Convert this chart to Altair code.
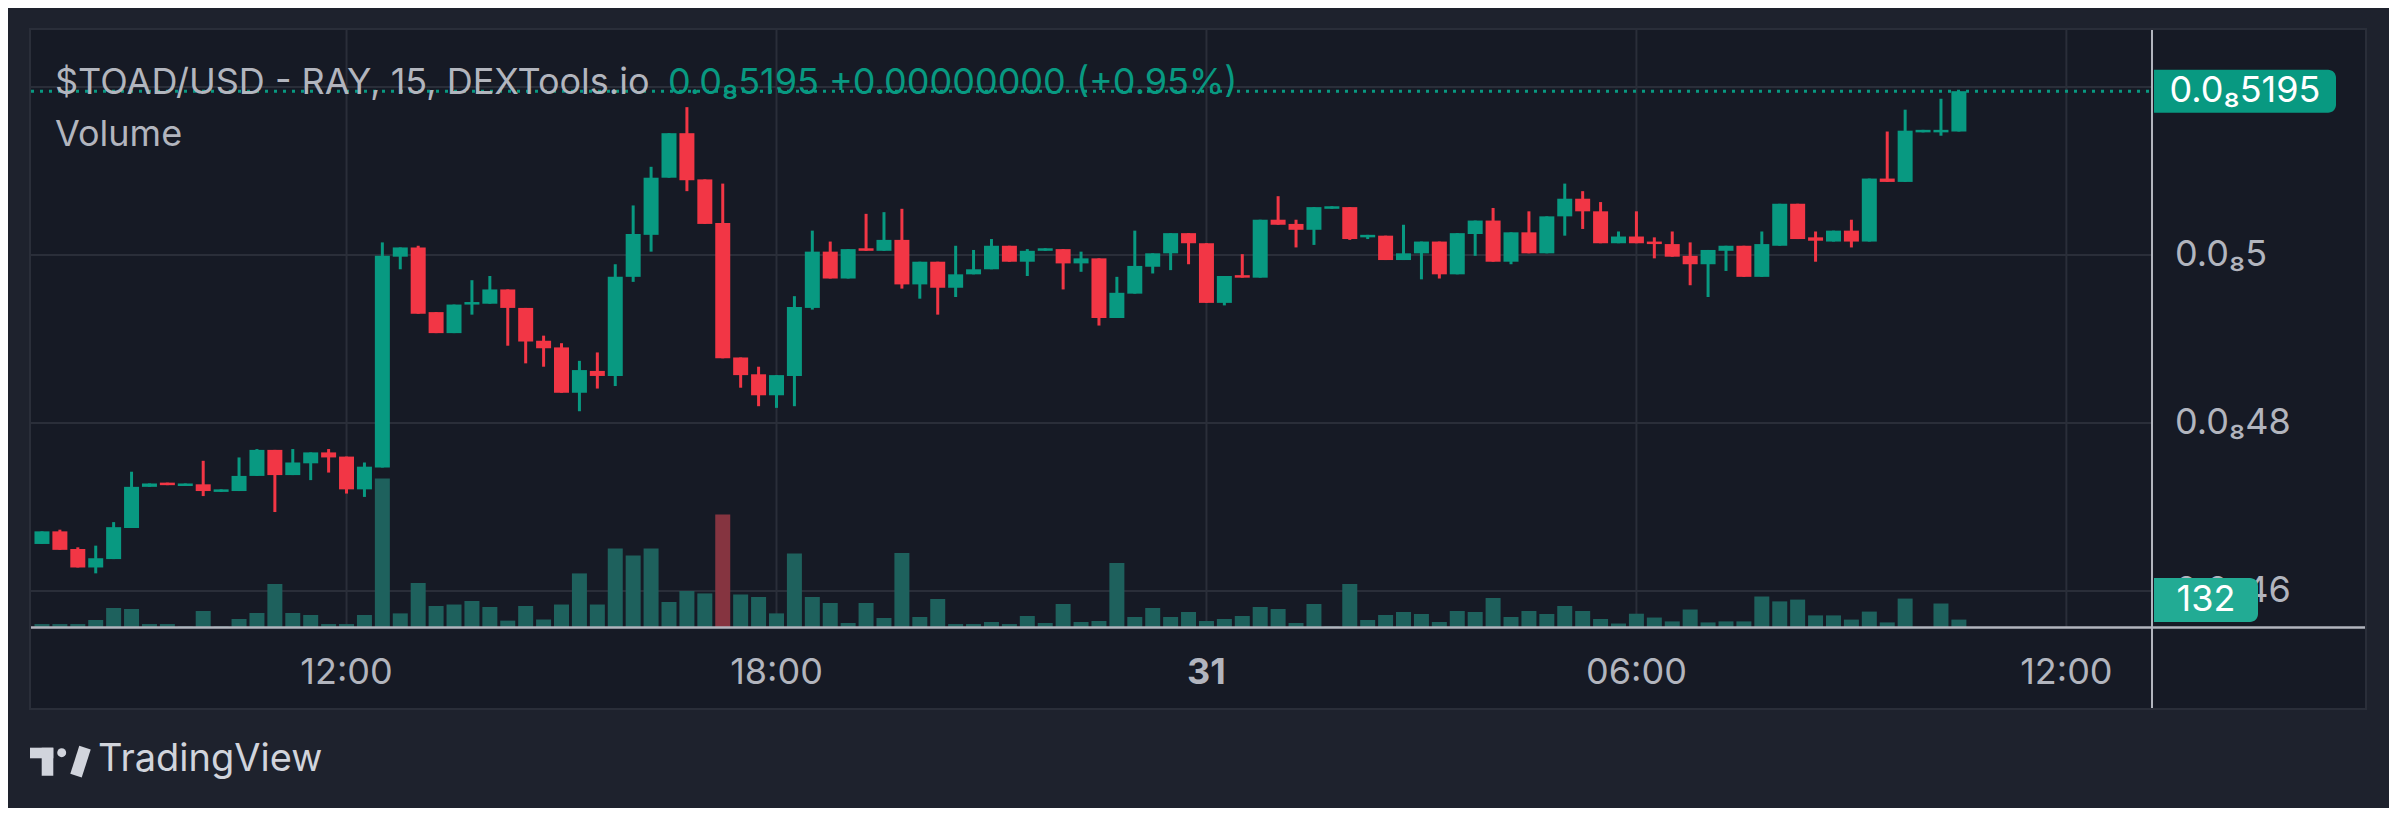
import altair as alt
import numpy as np
import pandas as pd

# ---------------- data (prices in units of 1e-9 USD) ----------------
opens = [
    4.656, 4.671, 4.650, 4.628, 4.638, 4.675, 4.724, 4.729, 4.725, 4.727,
    4.718, 4.719, 4.737, 4.768, 4.738, 4.752, 4.765, 4.760, 4.721, 4.747,
    4.998, 5.009, 4.932, 4.907, 4.941, 4.942, 4.959, 4.937, 4.898, 4.890,
    4.836, 4.862, 4.856, 4.974, 5.024, 5.092, 5.145, 5.090, 5.038, 4.878,
    4.858, 4.833, 4.856, 4.937, 5.004, 4.972, 5.008, 5.005, 5.018, 4.965,
    4.992, 4.961, 4.977, 4.983, 5.011, 4.992, 5.005, 5.007, 4.990, 4.996,
    4.925, 4.954, 4.986, 5.002, 5.026, 5.014, 4.943, 4.976, 4.973, 5.042,
    5.037, 5.030, 5.055, 5.057, 5.021, 5.023, 4.994, 5.002, 5.016, 4.977,
    5.025, 5.041, 4.992, 5.027, 5.002, 5.046, 5.067, 5.052, 5.014, 5.022,
    5.016, 5.013, 4.999, 4.989, 5.005, 5.011, 4.974, 5.011, 5.061, 5.021,
    5.016, 5.029, 5.016, 5.091, 5.087, 5.146, 5.146, 5.147]
highs = [
    4.671, 4.673, 4.652, 4.654, 4.682, 4.742, 4.728, 4.729, 4.728, 4.755,
    4.721, 4.759, 4.769, 4.768, 4.769, 4.765, 4.769, 4.760, 4.753, 5.015,
    5.009, 5.011, 4.932, 4.941, 4.970, 4.975, 4.959, 4.937, 4.904, 4.895,
    4.874, 4.884, 4.989, 5.059, 5.105, 5.145, 5.176, 5.090, 5.085, 4.878,
    4.867, 4.857, 4.951, 5.029, 5.016, 5.007, 5.049, 5.051, 5.055, 4.992,
    4.992, 5.011, 5.006, 5.019, 5.011, 5.007, 5.008, 5.007, 5.004, 4.996,
    4.974, 5.029, 5.002, 5.026, 5.026, 5.014, 4.975, 5.001, 5.042, 5.070,
    5.042, 5.057, 5.058, 5.057, 5.024, 5.023, 5.036, 5.016, 5.016, 5.026,
    5.041, 5.056, 5.027, 5.052, 5.046, 5.085, 5.076, 5.063, 5.028, 5.052,
    5.021, 5.028, 5.015, 5.006, 5.011, 5.011, 5.028, 5.061, 5.061, 5.028,
    5.029, 5.042, 5.091, 5.147, 5.173, 5.149, 5.186, 5.195]
lows = [
    4.656, 4.649, 4.628, 4.621, 4.638, 4.675, 4.724, 4.726, 4.725, 4.713,
    4.718, 4.719, 4.737, 4.694, 4.738, 4.732, 4.741, 4.716, 4.712, 4.747,
    4.983, 4.930, 4.907, 4.907, 4.929, 4.942, 4.892, 4.871, 4.867, 4.836,
    4.814, 4.841, 4.844, 4.968, 5.004, 5.092, 5.076, 5.037, 4.877, 4.842,
    4.820, 4.818, 4.820, 4.935, 4.972, 4.972, 5.005, 5.005, 4.960, 4.948,
    4.929, 4.950, 4.977, 4.983, 4.992, 4.975, 5.005, 4.959, 4.980, 4.916,
    4.925, 4.954, 4.978, 4.982, 4.989, 4.943, 4.940, 4.973, 4.973, 5.036,
    5.009, 5.012, 5.055, 5.018, 5.019, 4.994, 4.994, 4.971, 4.972, 4.977,
    4.999, 4.992, 4.989, 5.002, 5.002, 5.023, 5.031, 5.014, 5.014, 5.014,
    4.996, 4.998, 4.964, 4.950, 4.981, 4.974, 4.974, 5.011, 5.019, 4.992,
    5.016, 5.009, 5.016, 5.087, 5.087, 5.146, 5.142, 5.147]
closes = [
    4.671, 4.649, 4.628, 4.639, 4.676, 4.724, 4.728, 4.726, 4.728, 4.719,
    4.721, 4.737, 4.768, 4.738, 4.753, 4.765, 4.759, 4.721, 4.748, 4.999,
    5.009, 4.930, 4.907, 4.941, 4.944, 4.959, 4.937, 4.897, 4.889, 4.836,
    4.863, 4.856, 4.974, 5.025, 5.092, 5.145, 5.089, 5.037, 4.877, 4.857,
    4.833, 4.857, 4.938, 5.004, 4.972, 5.007, 5.005, 5.018, 4.965, 4.992,
    4.961, 4.977, 4.983, 5.011, 4.992, 5.005, 5.008, 4.990, 4.996, 4.925,
    4.955, 4.987, 5.002, 5.026, 5.014, 4.943, 4.975, 4.973, 5.042, 5.036,
    5.030, 5.057, 5.058, 5.019, 5.024, 4.994, 5.002, 5.016, 4.977, 5.026,
    5.041, 4.992, 5.027, 5.002, 5.046, 5.067, 5.052, 5.014, 5.022, 5.014,
    5.013, 4.998, 4.989, 5.006, 5.011, 4.974, 5.013, 5.061, 5.019, 5.017,
    5.029, 5.016, 5.091, 5.087, 5.148, 5.149, 5.149, 5.195]
volumes = [
    53, 53, 53, 125, 339, 321, 53, 53, 9, 285,
    9, 143, 250, 767, 250, 214, 53, 53, 214, 2650,
    243, 785, 375, 401, 464, 357, 114, 375, 134, 401,
    956, 401, 1402, 1274, 1402, 446, 642, 599, 2007, 580,
    535, 243, 1313, 535, 428, 71, 428, 161, 1320, 178,
    500, 53, 53, 89, 53, 196, 71, 410, 89, 107,
    1142, 178, 339, 178, 268, 107, 143, 196, 357, 321,
    71, 410, 9, 767, 125, 214, 268, 232, 89, 285,
    268, 517, 178, 285, 232, 375, 285, 143, 62, 237,
    169, 100, 312, 82, 100, 100, 544, 457, 489, 207,
    207, 132, 275, 82, 507, 0, 419, 132]
red_volume_bars = [38]

time_tick_index = [17, 41, 65, 89, 113]
time_tick_labels = ["12:00", "18:00", "31", "06:00", "12:00"]
time_tick_bold = [False, False, True, False, False]
price_tick_values = [4.6, 4.8, 5.0, 5.2]
price_tick_labels = ["0.0₈46", "0.0₈48", "0.0₈5", "0.0₈52"]
price_label_shown = [True, True, True, False]   # 0.0₈52 sits fully under the last-price tag

last_price = 5.195
last_price_label = "0.0₈5195"
last_volume = 132
legend_symbol = "$TOAD/USD - RAY, 15, DEXTools.io"
legend_values = "0.0₈5195 +0.00000000 (+0.95%)"
volume_title = "Volume"
brand = "TradingView"

# ---------------- layout / style ----------------
W, H = 2120, 598
CW, CH = 2381, 800
PAD = {"left": 23, "top": 21, "right": CW - 23 - W, "bottom": CH - 21 - H}
BAR_SPACING, FIRST_X = 18.0, 6.0
X_DOMAIN = [-FIRST_X / BAR_SPACING, (W - FIRST_X) / BAR_SPACING]
PX_PER_UNIT, REF_PRICE, REF_Y = 840.0, 5.0, 226.0
Y_DOMAIN = [REF_PRICE - (H - REF_Y) / PX_PER_UNIT, REF_PRICE + REF_Y / PX_PER_UNIT]
VOL_PER_PX = 132 / 7.4

FONT = "Inter"
FS = 36
OUTER = "#1e222d"
PANEL = "#161a25"
GRID = "#2a2e39"
TEXT = "#b2b5be"
SEP = "#b2b5be"
LOGO = "#d1d4dc"
UP, DOWN = "#089981", "#f23645"
VOL_UP, VOL_DOWN = "#1e615d", "#853440"
VOL_LABEL = "#22ab94"

df = pd.DataFrame({"i": np.arange(len(opens)), "open": opens, "high": highs,
                   "low": lows, "close": closes, "volume": volumes})
df["dir"] = np.where(df["close"] >= df["open"], "up", "down")
df["vdir"] = np.where(df["i"].isin(red_volume_bars), "vol_down", "vol_up")

color_scale = alt.Scale(domain=["up", "down", "vol_up", "vol_down"],
                        range=[UP, DOWN, VOL_UP, VOL_DOWN])
x_scale = alt.Scale(domain=X_DOMAIN, nice=False, zero=False)
price_scale = alt.Scale(domain=Y_DOMAIN, nice=False, zero=False)
vol_scale = alt.Scale(domain=[0, VOL_PER_PX * H], nice=False, zero=False)

X = lambda f: alt.X(f, scale=x_scale, axis=None)
YP = lambda f: alt.Y(f, scale=price_scale, axis=None)
YV = lambda f: alt.Y(f, scale=vol_scale, axis=None)

base = alt.Chart(df)
one = pd.DataFrame({"k": [0]})
tdf = pd.DataFrame({"i": time_tick_index, "label": time_tick_labels, "bold": time_tick_bold})
pdf = pd.DataFrame({"p": price_tick_values, "label": price_tick_labels, "shown": price_label_shown})


def text_layer(txt, x, y, color, size=FS, weight=400, align="left"):
    return alt.Chart(pd.DataFrame({"t": [txt]})).mark_text(
        align=align, baseline="middle", font=FONT, fontSize=size, fontWeight=weight, color=color
    ).encode(x=alt.value(x), y=alt.value(y), text="t:N")


def rect_layer(x0, x1, y0, y1, color):
    return alt.Chart(one).mark_rect(color=color).encode(
        x=alt.value(x0), x2=alt.value(x1), y=alt.value(y0), y2=alt.value(y1))


def rule_layer(x0, x1, y0, y1, color, width):
    return alt.Chart(one).mark_rule(color=color, strokeWidth=width).encode(
        x=alt.value(x0), x2=alt.value(x1), y=alt.value(y0), y2=alt.value(y1))


# grid + axis labels, placed through the scales
grid_x = alt.Chart(tdf).mark_rule(color=GRID, strokeWidth=2).encode(
    x=X("i:Q"), y=alt.value(0), y2=alt.value(H))
grid_y = alt.Chart(pdf).mark_rule(color=GRID, strokeWidth=2).encode(
    y=YP("p:Q"), x=alt.value(0), x2=alt.value(W))
time_labels = alt.Chart(tdf).mark_text(font=FONT, fontSize=FS, color=TEXT, baseline="middle",
                                       align="center").encode(
    x=X("i:Q"), y=alt.value(H + 46), text="label:N").transform_filter("!datum.bold")
day_labels = alt.Chart(tdf).mark_text(font=FONT, fontSize=FS, color=TEXT, baseline="middle",
                                      align="center", fontWeight="bold").encode(
    x=X("i:Q"), y=alt.value(H + 46), text="label:N").transform_filter("datum.bold")
price_labels = alt.Chart(pdf).mark_text(font=FONT, fontSize=FS, color=TEXT, baseline="middle",
                                        align="left").encode(
    y=YP("p:Q"), x=alt.value(W + 24), text="label:N").transform_filter("datum.shown")

wicks = base.mark_rule(strokeWidth=3, clip=True).encode(
    x=X("i:Q"), y=YP("low:Q"), y2="high:Q",
    color=alt.Color("dir:N", scale=color_scale, legend=None))
bodies = base.mark_bar(size=15, clip=True).encode(
    x=X("i:Q"), y=YP("open:Q"), y2="close:Q",
    color=alt.Color("dir:N", scale=color_scale, legend=None))

price_df = pd.DataFrame({"price": [last_price], "label": [last_price_label]})
price_line = alt.Chart(price_df).mark_rule(color=UP, strokeWidth=3, strokeDash=[3, 6]).encode(
    y=YP("price:Q"), x=alt.value(0), x2=alt.value(W))

legend1 = text_layer(legend_symbol, 24, 54, TEXT)
legend2 = text_layer(legend_values, 637, 54, UP)
legend3 = text_layer(volume_title, 24, 106, TEXT)

price_group = alt.layer(grid_x, grid_y, time_labels, day_labels, price_labels,
                        wicks, bodies, price_line, legend1, legend2, legend3)

vol_bars = base.mark_bar(size=15, clip=True).encode(
    x=X("i:Q"), y=YV("volume:Q"),
    color=alt.Color("vdir:N", scale=color_scale, legend=None))
vol_group = alt.layer(vol_bars)

border = alt.Chart(one).mark_rect(fillOpacity=0, stroke="#2a2e39", strokeWidth=2).encode(
    x=alt.value(-1), x2=alt.value(2335), y=alt.value(0), y2=alt.value(680))
deco_group = alt.layer(
    rule_layer(2121, 2121, 0, 680, SEP, 2),
    rule_layer(0, 2335, 598.5, 598.5, SEP, 2.5),
    rect_layer(-40, 2380, -40, -1, OUTER),
    rect_layer(-40, 2380, 681, 800, OUTER),
    rect_layer(-40, -1, -40, 800, OUTER),
    rect_layer(2335, 2380, -40, 800, OUTER),
    border,
    # TradingView logo
    rect_layer(-1, 22.3, 718.7, 729.3, LOGO),
    rect_layer(10.7, 22.3, 718.7, 746.7, LOGO),
    alt.Chart(one).mark_circle(color=LOGO, opacity=1, size=80).encode(
        x=alt.value(30.7), y=alt.value(723.7)),
    rule_layer(45, 54, 746.7, 718.7, LOGO, 12),
    text_layer(brand, 67, 731, LOGO, size=38, weight=400),
)

price_box = alt.Chart(price_df).mark_rect(color=UP, yOffset=-21.5, y2Offset=21.5,
                                          cornerRadiusTopRight=8, cornerRadiusBottomRight=8).encode(
    x=alt.value(2123), x2=alt.value(2305), y=YP("price:Q"), y2="price:Q")
price_box_text = alt.Chart(price_df).mark_text(color="#ffffff", font=FONT, fontSize=FS,
                                               align="center", baseline="middle").encode(
    x=alt.value(2214), y=YP("price:Q"), text="label:N")
overlay_price = alt.layer(price_box, price_box_text)

vol_df = pd.DataFrame({"v": [last_volume], "label": [str(last_volume)]})
vol_box = alt.Chart(vol_df).mark_rect(color=VOL_LABEL, yOffset=-41.6, y2Offset=2.4,
                                      cornerRadiusTopRight=8, cornerRadiusBottomRight=8).encode(
    x=alt.value(2123), x2=alt.value(2227), y=YV("v:Q"), y2="v:Q")
vol_box_text = alt.Chart(vol_df).mark_text(color="#ffffff", font=FONT, fontSize=FS, dy=-20,
                                           align="center", baseline="middle").encode(
    x=alt.value(2175), y=YV("v:Q"), text="label:N")
overlay_vol = alt.layer(vol_box, vol_box_text)

chart = alt.layer(price_group, vol_group, deco_group, overlay_price, overlay_vol).resolve_scale(
    y="independent"
).properties(
    width=W, height=H, padding=PAD,
    autosize=alt.AutoSizeParams(type="none"),
    background=PANEL,
).configure_view(stroke=None)

chart.save("out.html", embed_options={"renderer": "svg", "actions": False})
